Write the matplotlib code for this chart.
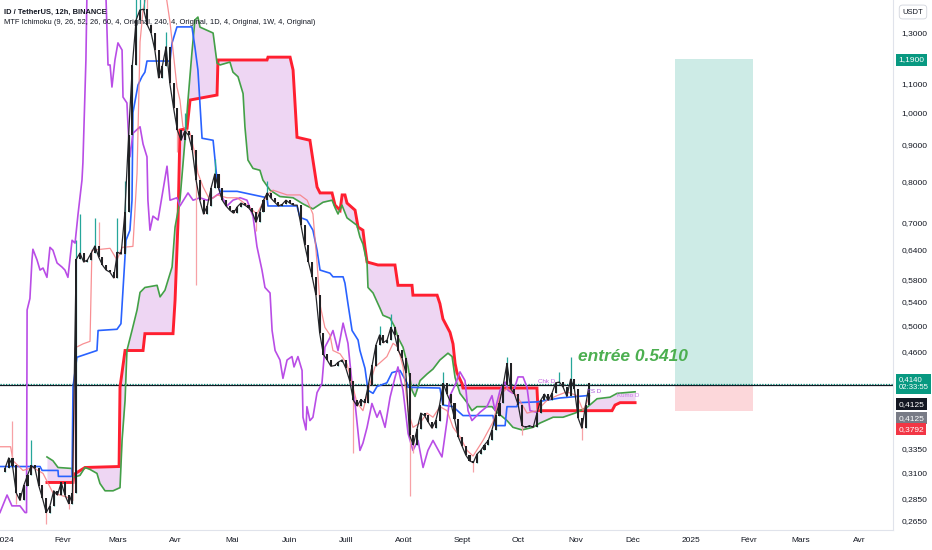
import numpy as np
import matplotlib
matplotlib.use('Agg')
import matplotlib.pyplot as plt
from matplotlib.transforms import blended_transform_factory
from matplotlib.patches import Rectangle
from matplotlib.ticker import NullLocator

plt.rcParams['font.family'] = ['Liberation Sans', 'DejaVu Sans']

# ---------------- data (x = days since 2024-01-01, y = price in USDT) ----------------
candle_start_day = 0
candle_step_days = 2
first_open = 0.310
closes = [0.314, 0.325, 0.317, 0.290, 0.283, 0.297, 0.307, 0.317, 0.314, 0.297,
          0.285, 0.272, 0.278, 0.292, 0.288, 0.300, 0.288, 0.280, 0.290, 0.620,
          0.633, 0.615, 0.619, 0.633, 0.648, 0.625, 0.609, 0.599, 0.595, 0.584,
          0.635, 0.631, 0.723, 0.929, 1.168, 1.352, 1.397, 1.400, 1.330, 1.296,
          1.226, 1.120, 1.164, 1.240, 1.100, 1.015, 0.945, 0.914, 0.942, 0.929,
          0.885, 0.803, 0.752, 0.719, 0.738, 0.782, 0.819, 0.782, 0.752, 0.738,
          0.728, 0.721, 0.736, 0.745, 0.740, 0.734, 0.723, 0.700, 0.723, 0.752,
          0.770, 0.757, 0.747, 0.738, 0.742, 0.752, 0.745, 0.740, 0.740, 0.693,
          0.650, 0.615, 0.586, 0.552, 0.488, 0.455, 0.447, 0.438, 0.439, 0.444,
          0.447, 0.435, 0.418, 0.392, 0.385, 0.393, 0.389, 0.412, 0.439, 0.469,
          0.485, 0.473, 0.477, 0.497, 0.485, 0.461, 0.450, 0.429, 0.350, 0.339,
          0.357, 0.376, 0.373, 0.365, 0.358, 0.367, 0.386, 0.414, 0.400, 0.389,
          0.369, 0.348, 0.338, 0.328, 0.322, 0.320, 0.329, 0.333, 0.339, 0.344,
          0.356, 0.373, 0.389, 0.412, 0.442, 0.407, 0.400, 0.386, 0.361, 0.359,
          0.361, 0.359, 0.376, 0.392, 0.400, 0.392, 0.401, 0.415, 0.416, 0.409,
          0.397, 0.420, 0.407, 0.370, 0.358, 0.386, 0.414]
wick_high = {4: 0.367, 14: 0.345, 38: 0.66, 40: 0.72, 48: 0.71, 50: 0.70, 60: 0.71,
             64: 0.80, 70: 1.55, 72: 1.60, 74: 1.52, 76: 1.45, 86: 1.30, 96: 1.00,
             112: 0.86, 140: 0.80, 200: 0.50, 206: 0.52, 234: 0.43, 268: 0.452,
             296: 0.43, 302: 0.452}
wick_low = {6: 0.280, 22: 0.262, 34: 0.275, 92: 0.88, 102: 0.57, 134: 0.68,
            186: 0.330, 216: 0.287, 218: 0.330, 250: 0.310, 276: 0.350, 308: 0.344}

purple_days = [-2.7, 1.1, 3.7, 8.0, 10.7, 11.5, 11.8, 13.3, 14.4, 14.9,
               17.1, 18.7, 20.3, 22.4, 24.0, 25.6, 27.8, 30.4, 32.0, 33.6,
               35.8, 37.4, 39.0, 41.1, 41.6, 43.2, 43.8, 50.7, 53.9, 55.0,
               56.1, 57.1, 58.7, 60.3, 62.5, 63.0, 65.1, 65.7, 66.7, 68.3,
               72.1, 73.7, 75.8, 76.3, 77.4, 79.0, 81.7, 86.5, 88.1, 91.8,
               93.4, 97.7, 100.4, 104.1, 107.8, 111.1, 114.8, 118.5, 121.7, 125.5,
               129.2, 132.4, 134.5, 137.2, 138.8, 141.5, 142.6, 144.2, 146.8, 148.4,
               150.6, 153.2, 154.3, 156.4, 158.6, 159.1, 160.7, 161.2, 162.8, 164.4,
               166.6, 169.2, 170.8, 173.5, 175.1, 177.8, 180.5, 183.1, 185.3, 186.9,
               189.5, 191.1, 193.3, 195.9, 198.6, 200.2, 202.9, 205.6, 208.2, 209.8,
               212.5, 215.2, 217.8, 220.5, 223.2, 225.8, 228.5, 233.3, 236.0, 237.6,
               240.3, 242.9, 245.6, 247.2, 249.3, 253.6, 257.3, 260.0, 261.6, 264.3,
               267.0, 268.6, 271.2, 273.9, 276.6, 278.7, 280.3, 284.0]
purple_vals = [0.272, 0.288, 0.278, 0.278, 0.272, 0.272, 0.526, 0.546, 0.619, 0.641,
               0.619, 0.599, 0.603, 0.585, 0.645, 0.639, 0.613, 0.605, 0.599, 0.585,
               0.660, 0.654, 0.719, 0.803, 0.850, 1.187, 1.5, 1.65, 1.46, 1.168,
               1.168, 1.087, 1.187, 1.255, 1.226, 1.052, 1.032, 0.955, 0.866, 0.935,
               0.955, 0.903, 0.866, 0.752, 0.682, 0.714, 0.705, 0.840, 0.752, 0.758,
               0.738, 0.770, 0.752, 0.758, 0.752, 0.758, 0.770, 0.738, 0.752, 0.758,
               0.752, 0.714, 0.647, 0.599, 0.566, 0.556, 0.492, 0.461, 0.447, 0.421,
               0.447, 0.452, 0.437, 0.452, 0.432, 0.371, 0.356, 0.384, 0.367, 0.371,
               0.402, 0.414, 0.466, 0.481, 0.492, 0.461, 0.504, 0.472, 0.414, 0.388,
               0.333, 0.341, 0.359, 0.388, 0.371, 0.379, 0.359, 0.396, 0.422, 0.437,
               0.405, 0.352, 0.333, 0.344, 0.315, 0.333, 0.344, 0.326, 0.367, 0.398,
               0.412, 0.430, 0.418, 0.379, 0.367, 0.377, 0.384, 0.398, 0.379, 0.405,
               0.416, 0.405, 0.401, 0.423, 0.423, 0.409, 0.379, 0.377]

blue_days = [-2.7, 18.7, 19.8, 28.3, 28.5, 35.8, 36.3, 38.4, 49.1, 49.7,
             59.8, 61.9, 64.6, 66.7, 67.8, 68.3, 71.0, 73.1, 74.7, 75.8,
             88.1, 89.2, 91.8, 99.8, 101.4, 103.0, 105.2, 111.1, 113.2, 114.8,
             123.9, 139.9, 140.4, 155.9, 157.5, 161.2, 164.4, 166.6, 168.2, 173.5,
             175.1, 180.5, 181.5, 183.1, 185.3, 188.5, 189.5, 192.2, 193.8, 196.5,
             198.6, 203.9, 206.6, 210.9, 214.6, 215.2, 232.2, 233.8, 239.2, 244.5,
             260.5, 261.6, 267.0, 268.0, 273.3, 273.9, 284.0, 296.3, 310.7]
blue_vals = [0.316, 0.316, 0.312, 0.312, 0.306, 0.306, 0.409, 0.451, 0.461, 0.492,
             0.494, 0.503, 0.660, 0.682, 0.752, 1.000, 1.094, 1.124, 1.141, 1.183,
             1.183, 1.255, 1.322, 1.322, 1.238, 1.149, 0.920, 0.914, 0.803, 0.774,
             0.774, 0.758, 0.738, 0.738, 0.711, 0.705, 0.682, 0.639, 0.599, 0.593,
             0.586, 0.586, 0.574, 0.537, 0.492, 0.477, 0.461, 0.435, 0.405, 0.401,
             0.410, 0.415, 0.429, 0.432, 0.415, 0.409, 0.408, 0.386, 0.384, 0.373,
             0.373, 0.361, 0.361, 0.384, 0.384, 0.389, 0.390, 0.395, 0.398]

green_days = [22.4, 25.6, 28.3, 35.8, 36.3, 40.0, 42.7, 45.4, 49.1, 50.7,
              53.4, 57.7, 61.4, 62.5, 64.1, 65.1, 67.8, 70.5, 72.1, 74.7,
              81.2, 82.8, 85.4, 89.2, 90.8, 93.4, 96.1, 97.7, 99.8, 101.4,
              103.0, 104.1, 111.1, 113.2, 114.8, 120.1, 121.7, 124.4, 127.1, 128.1,
              129.7, 132.4, 136.1, 137.7, 141.5, 146.8, 153.8, 159.1, 164.4, 169.8,
              174.6, 176.2, 177.8, 179.9, 182.6, 187.9, 189.5, 191.1, 193.3, 193.8,
              196.5, 200.2, 201.8, 205.6, 208.2, 209.8, 212.5, 215.2, 217.3, 218.9,
              221.6, 225.3, 228.5, 232.2, 236.5, 238.7, 240.3, 242.9, 246.7, 249.3,
              252.0, 260.0, 262.7, 268.0, 271.2, 276.0, 281.9, 285.6, 292.6, 297.9,
              304.3, 310.7, 316.1, 323.0, 326.8, 336.4]
green_vals = [0.326, 0.322, 0.315, 0.314, 0.305, 0.307, 0.315, 0.313, 0.309, 0.299,
              0.292, 0.292, 0.295, 0.344, 0.392, 0.461, 0.492, 0.526, 0.557, 0.566,
              0.570, 0.549, 0.561, 0.605, 0.689, 0.752, 0.914, 1.042, 1.216, 1.352,
              1.365, 1.321, 1.296, 1.175, 1.168, 1.179, 1.141, 1.124, 1.064, 0.955,
              0.857, 0.834, 0.829, 0.803, 0.777, 0.761, 0.758, 0.743, 0.731, 0.747,
              0.752, 0.734, 0.719, 0.740, 0.710, 0.693, 0.667, 0.652, 0.613, 0.566,
              0.556, 0.529, 0.517, 0.512, 0.497, 0.481, 0.466, 0.437, 0.405, 0.397,
              0.418, 0.427, 0.434, 0.447, 0.457, 0.452, 0.422, 0.401, 0.389, 0.379,
              0.384, 0.384, 0.377, 0.367, 0.359, 0.356, 0.359, 0.364, 0.371, 0.371,
              0.376, 0.383, 0.394, 0.396, 0.401, 0.403]

red_days = [22.4, 36.3, 36.8, 42.7, 60.9, 61.4, 64.1, 73.7, 74.7, 89.7,
            90.8, 92.4, 93.4, 97.2, 98.8, 113.2, 113.7, 139.9, 140.4, 152.2,
            153.8, 155.9, 162.8, 164.4, 166.6, 168.2, 174.6, 176.2, 178.9, 180.0,
            181.5, 182.6, 186.9, 188.5, 191.1, 192.2, 193.3, 199.1, 208.2, 209.8,
            217.3, 217.8, 230.7, 232.2, 233.8, 237.6, 239.2, 240.3, 241.3, 244.0,
            244.5, 284.0, 284.6, 324.1, 325.7, 328.4, 336.4]
red_vals = [0.300, 0.300, 0.308, 0.315, 0.316, 0.409, 0.461, 0.461, 0.487, 0.487,
            0.543, 0.705, 0.945, 0.950, 1.042, 1.059, 1.187, 1.187, 1.198, 1.198,
            1.149, 0.923, 0.914, 0.857, 0.785, 0.770, 0.770, 0.740, 0.728, 0.765,
            0.765, 0.745, 0.728, 0.689, 0.682, 0.645, 0.615, 0.609, 0.609, 0.570,
            0.570, 0.552, 0.552, 0.537, 0.511, 0.489, 0.471, 0.442, 0.429, 0.414,
            0.408, 0.408, 0.379, 0.379, 0.386, 0.389, 0.389]

lr_days = [-2.7, 3, 4.3, 9.6, 14.9, 20.3, 25.6, 33.1, 36.3, 37.4,
           41.6, 45.4, 46.4, 56.1, 59.8, 62.5, 68.3, 70.5, 72.1, 73.7,
           76.3, 85.4, 88.1, 89.7, 91.8, 93.4, 95.0, 98.8, 101.4, 103.0,
           105.7, 109.4, 113.2, 118.5, 123.9, 129.2, 134.5, 139.9, 143.1, 150.6,
           157.5, 161.3, 164.4, 166.6, 168.2, 170.8, 173.5, 175.1, 178.9, 182.6,
           185.3, 187.9, 191.1, 194.9, 197.5, 200.2, 203.9, 207.2, 209.8, 212.5,
           215.2, 217.8, 221.6, 225.3, 228.5, 232.2, 236.0, 239.2, 242.9, 246.7,
           249.9, 255.2, 260.5, 264.3, 268.0, 273.3, 278.7, 284.0, 289.4, 294.7,
           300.0, 305.4, 308.6, 312.3]
lr_vals = [0.337, 0.337, 0.322, 0.312, 0.315, 0.309, 0.290, 0.286, 0.283, 0.465,
           0.471, 0.475, 0.639, 0.643, 0.619, 0.645, 0.647, 0.821, 1.259, 1.397,
           1.50, 1.50, 1.343, 1.226, 1.087, 1.042, 0.955, 0.935, 0.874, 0.821,
           0.786, 0.752, 0.765, 0.758, 0.758, 0.740, 0.719, 0.765, 0.777, 0.765,
           0.765, 0.752, 0.719, 0.613, 0.535, 0.497, 0.485, 0.461, 0.456, 0.441,
           0.414, 0.389, 0.379, 0.414, 0.437, 0.443, 0.452, 0.472, 0.466, 0.437,
           0.379, 0.359, 0.364, 0.376, 0.371, 0.384, 0.379, 0.359, 0.348, 0.333,
           0.327, 0.344, 0.365, 0.398, 0.408, 0.398, 0.376, 0.379, 0.392, 0.398,
           0.403, 0.398, 0.379, 0.398]

last_price = 0.4140
hline_price = 0.4125
pos_start_day, pos_end_day = 357.7, 399.4
pos_entry, pos_target, pos_stop = 0.4125, 1.19, 0.379

y_ticks = [1.3, 1.1, 1.0, 0.9, 0.8, 0.7, 0.64, 0.58, 0.54, 0.5, 0.46, 0.335, 0.31, 0.285, 0.265]
month_days = [0, 31, 60, 91, 121, 152, 182, 213, 244, 274, 305, 335, 366, 397, 425, 456]
month_labels = ['2024', 'Févr', 'Mars', 'Avr', 'Mai', 'Juin', 'Juill', 'Août', 'Sept',
                'Oct', 'Nov', 'Déc', '2025', 'Févr', 'Mars', 'Avr']

# ---------------- figure ----------------
W, H = 932, 550
fig = plt.figure(figsize=(W / 100, H / 100), dpi=100)
fig.patch.set_facecolor('white')
ax = fig.add_axes([0, 20 / H, 893 / W, 530 / H])
ax.set_yscale('log')
ax.set_ylim(0.257, 1.443)
ax.set_xlim(-2.67, 474.1)

# cloud
grid = np.arange(green_days[0], green_days[-1] + 0.01, 0.2)
g_i = np.interp(grid, green_days, green_vals)
r_i = np.interp(grid, red_days, red_vals)
ax.fill_between(grid, g_i, r_i, color='#eed6f3', lw=0, zorder=1)
ax.plot(red_days, red_vals, color='#ff1f30', lw=2.1, zorder=3, solid_joinstyle='miter')
ax.plot(green_days, green_vals, color='#43a047', lw=1.2, zorder=3)
ax.plot(blue_days, blue_vals, color='#2962ff', lw=1.2, zorder=3)
ax.plot(purple_days, purple_vals, color='#b94de6', lw=1.2, zorder=3)
ax.plot(lr_days, lr_vals, color='#f77c80', lw=0.9, alpha=0.85, zorder=4)

# position box
ax.fill_between([pos_start_day, pos_end_day], pos_entry, pos_target, color='#cdebe6', lw=0, zorder=0.5)
ax.fill_between([pos_start_day, pos_end_day], pos_stop, pos_entry, color='#fcd7da', lw=0, zorder=0.5)

# price lines
ax.axhline(last_price, color='#089981', lw=0.9, ls=(0, (1, 1.2)), zorder=2)
ax.axhline(hline_price, color='#131722', lw=0.9, zorder=2)

# candles
candle_days = [candle_start_day + i * candle_step_days for i in range(len(closes))]
ax.plot(candle_days, closes, color='#26282c', lw=0.9, zorder=5.5)
prev = first_open
for d, c in zip(candle_days, closes):
    o = prev
    hi = max(o, c, wick_high.get(d, 0))
    lo = min(o, c, wick_low.get(d, 10))
    col = '#26a69a' if c >= o else '#f7a1a6'
    ax.vlines(d, lo, hi, color=col, lw=0.9, zorder=5)
    ax.add_patch(Rectangle((d - 0.55, min(o, c)), 1.1, abs(c - o) + 1e-4,
                           fc='#202124', ec='none', zorder=6))
    prev = c

# texts on the chart
ax.text(306, 0.446, 'entrée 0.5410', fontsize=12.5, fontweight='bold', style='italic',
        color='#4caf50', va='baseline', ha='left', zorder=8)
ax.text(284.5, 0.417, 'Chk D', fontsize=4.5, color='#c05ee0', va='center', zorder=8)
ax.text(310.5, 0.403, 'TS D', fontsize=4.5, color='#a64fd6', va='center', zorder=8)
ax.text(327, 0.398, 'Kumo D', fontsize=4.5, color='#c879e6', va='center', zorder=8)

# axes styling
for s in ['left', 'top']:
    ax.spines[s].set_visible(False)
ax.spines['right'].set_color('#e0e3eb')
ax.spines['bottom'].set_color('#e0e3eb')
ax.yaxis.tick_right()
ax.yaxis.set_minor_locator(NullLocator())
ax.set_yticks(y_ticks)
ax.set_yticklabels([f"{v:.4f}".replace('.', ',') for v in y_ticks])
ax.tick_params(axis='y', length=0, pad=6, labelsize=6, labelcolor='#131722')
ax.set_xticks(month_days)
ax.set_xticklabels(month_labels)
ax.tick_params(axis='x', length=0, pad=5, labelsize=6, labelcolor='#131722')

trans = blended_transform_factory(ax.transAxes, ax.transData)
def axis_label(y, txt, fc, fs=6, tc='white'):
    ax.text(1.006, y, txt, transform=trans, va='center', ha='left', fontsize=fs, color=tc,
            bbox=dict(boxstyle='square,pad=0.3', fc=fc, ec='none'), clip_on=False, zorder=10)

axis_label(1.187, '1,1900', '#089981')
axis_label(0.4135, '0,4140\n02:33:55', '#089981', fs=5.6)
axis_label(0.387, '0,4125', '#131722')
axis_label(0.370, '0,4125', '#787b86')
axis_label(0.3565, '0,3792', '#f23645')

fig.text(913 / W, 1 - 12 / H, 'USDT', fontsize=5.5, color='#131722', ha='center', va='center',
         bbox=dict(boxstyle='round,pad=0.45', fc='white', ec='#d1d4dc', lw=0.6))

fig.text(4 / W, 1 - 12 / H, 'ID / TetherUS, 12h, BINANCE', fontsize=5.4, fontweight='bold',
         color='#131722', va='center', ha='left')
fig.text(4 / W, 1 - 23 / H,
         'MTF Ichimoku (9, 26, 52, 26, 60, 4, Original, 240, 4, Original, 1D, 4, Original, 1W, 4, Original)',
         fontsize=5.4, color='#131722', va='center', ha='left')

fig.savefig('out.png', dpi=100, facecolor='white')
